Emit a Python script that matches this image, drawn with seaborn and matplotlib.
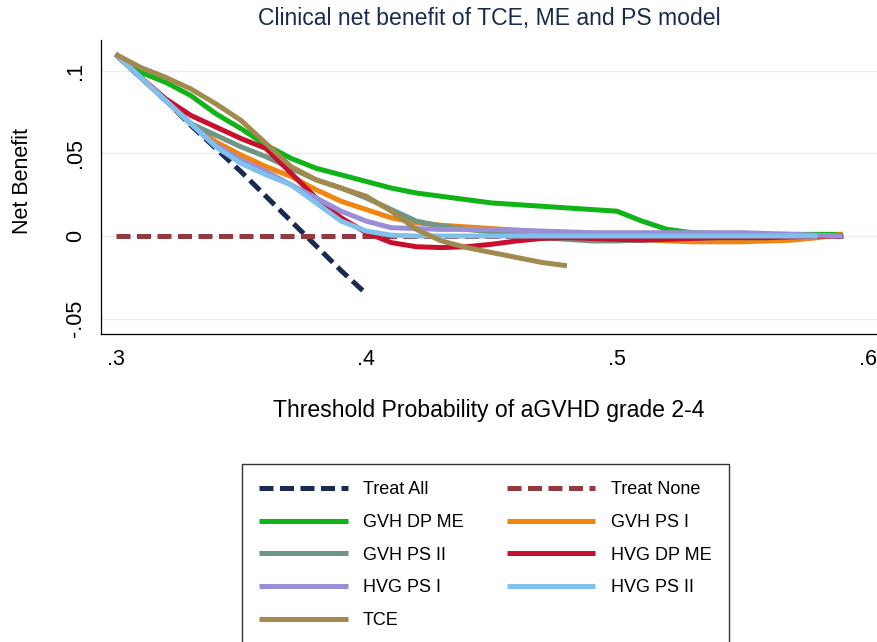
import matplotlib
matplotlib.use("Agg")
import matplotlib.pyplot as plt
import pandas as pd
import seaborn as sns

# Threshold probabilities (0.30 .. 0.59)
thresholds = [0.30, 0.31, 0.32, 0.33, 0.34, 0.35, 0.36, 0.37, 0.38, 0.39,
              0.40, 0.41, 0.42, 0.43, 0.44, 0.45, 0.46, 0.47, 0.48, 0.49,
              0.50, 0.51, 0.52, 0.53, 0.54, 0.55, 0.56, 0.57, 0.58, 0.59]

treat_all = [0.110, 0.096, 0.082, 0.067, 0.053, 0.039, 0.024, 0.009, -0.006,
             -0.021, -0.035]
treat_none = [0.0] * 30
gvh_dp_me = [0.110, 0.099, 0.093, 0.085, 0.074, 0.065, 0.055, 0.047, 0.041,
             0.037, 0.033, 0.029, 0.026, 0.024, 0.022, 0.020, 0.019, 0.018,
             0.017, 0.016, 0.015, 0.009, 0.004, 0.002, 0.0015, 0.001, 0.001,
             0.001, 0.001, 0.001]
gvh_ps_i = [0.110, 0.096, 0.082, 0.068, 0.057, 0.049, 0.042, 0.036, 0.028,
            0.021, 0.016, 0.011, 0.008, 0.0065, 0.0055, 0.0045, 0.0035,
            0.0025, 0.0015, 0.000, -0.001, -0.002, -0.003, -0.0035, -0.0035,
            -0.0035, -0.003, -0.0025, -0.001, 0.001]
gvh_ps_ii = [0.110, 0.096, 0.082, 0.068, 0.061, 0.054, 0.048, 0.041, 0.034,
             0.029, 0.023, 0.016, 0.009, 0.006, 0.004, 0.0025, 0.001, -0.001,
             -0.002, -0.003, -0.003, -0.0025, -0.002, -0.0015, -0.001, -0.001,
             -0.001, -0.0005, 0.000, 0.000]
hvg_dp_me = [0.110, 0.096, 0.083, 0.073, 0.066, 0.059, 0.053, 0.038, 0.023,
             0.011, 0.002, -0.004, -0.0065, -0.007, -0.0065, -0.005, -0.003,
             -0.0015, -0.001, -0.0015, -0.002, -0.0025, -0.002, -0.0015,
             -0.001, -0.001, -0.001, -0.0005, 0.000, 0.000]
hvg_ps_i = [0.110, 0.096, 0.082, 0.068, 0.055, 0.046, 0.039, 0.031, 0.023,
            0.015, 0.009, 0.005, 0.0045, 0.004, 0.004, 0.004, 0.0035, 0.003,
            0.0025, 0.002, 0.002, 0.002, 0.002, 0.002, 0.002, 0.002, 0.0015,
            0.001, 0.0005, 0.000]
hvg_ps_ii = [0.110, 0.096, 0.082, 0.068, 0.054, 0.044, 0.037, 0.031, 0.020,
             0.009, 0.003, 0.0005, 0.000, 0.000, 0.000, 0.000, 0.000, 0.000,
             0.000, 0.000, 0.000, 0.000, 0.000, 0.000, 0.000, 0.000, 0.000,
             0.000, 0.000]
tce = [0.110, 0.102, 0.096, 0.089, 0.080, 0.070, 0.056, 0.042, 0.034, 0.029,
       0.024, 0.015, 0.004, -0.003, -0.007, -0.010, -0.013, -0.016, -0.018]

series_names = ["Treat All", "Treat None", "GVH DP ME", "GVH PS I",
                "GVH PS II", "HVG DP ME", "HVG PS I", "HVG PS II", "TCE"]
series_values = [treat_all, treat_none, gvh_dp_me, gvh_ps_i, gvh_ps_ii,
                 hvg_dp_me, hvg_ps_i, hvg_ps_ii, tce]
series_colors = ["#1B2A52", "#933A40", "#10B318", "#F0860F", "#6F9585",
                 "#C8102E", "#9A8FD6", "#80C0EC", "#A08A4E"]

y_ticks = [-0.05, 0.0, 0.05, 0.1]
y_tick_labels = ["-.05", "0", ".05", ".1"]
x_ticks = [0.3, 0.4, 0.5, 0.6]
x_tick_labels = [".3", ".4", ".5", ".6"]

rows = []
for name, vals in zip(series_names, series_values):
    for x, y in zip(thresholds, vals):
        rows.append({"threshold": x, "net_benefit": y, "model": name})
df = pd.DataFrame(rows)

sns.set_style("white")
plt.rcParams["font.family"] = ["Liberation Sans", "DejaVu Sans"]
plt.rcParams["text.color"] = "black"

W, H = 877, 642
fig = plt.figure(figsize=(W / 100, H / 100), dpi=100)
ax = fig.add_axes([101 / W, 1 - 334 / H, (877 - 101) / W, (334 - 40) / H])

dash = (2.8, 1.3)
dashes = {n: (dash if n.startswith("Treat") else "") for n in series_names}
sns.lineplot(data=df, x="threshold", y="net_benefit", hue="model",
             style="model", hue_order=series_names, style_order=series_names,
             palette=dict(zip(series_names, series_colors)), dashes=dashes,
             linewidth=3.6, sort=False, estimator=None, legend=False, ax=ax)
for ln in ax.lines:
    ln.set_solid_capstyle("butt")
    ln.set_dash_capstyle("butt")

ax.set_xlim(0.2942, 0.6037)
ax.set_ylim(-0.0593, 0.1186)
ax.set_xticks(x_ticks)
ax.set_xticklabels(x_tick_labels)
ax.set_yticks(y_ticks)
ax.set_yticklabels(y_tick_labels, rotation=90, va="center")
ax.tick_params(axis="both", direction="out", length=7, width=0.9,
               color="black", labelsize=15.5, labelcolor="black")
ax.tick_params(axis="x", pad=4)
ax.tick_params(axis="y", pad=4)
ax.yaxis.grid(True, color="#E7EEF2", linewidth=1.0)
ax.xaxis.grid(False)
ax.set_axisbelow(True)
for side in ["top", "right"]:
    ax.spines[side].set_visible(False)
for side in ["left", "bottom"]:
    ax.spines[side].set_color("black")
    ax.spines[side].set_linewidth(0.9)

ax.set_xlabel("Threshold Probability of aGVHD grade 2-4", fontsize=16.6,
              color="black")
ax.xaxis.set_label_coords(0.5, -(399 - 334) / 294)
ax.set_ylabel("Net Benefit", fontsize=15.5, color="black")
ax.yaxis.set_label_coords(-(101 - 23) / 776, (334 - 181) / 294)
ax.yaxis.label.set_va("center")

fig.text(489 / W, 1 - 18 / H, "Clinical net benefit of TCE, ME and PS model",
         ha="center", va="center", fontsize=16.6, color="#1A2A4F")

# legend: row-wise order over two columns
handles = list(ax.lines)
col1 = [0, 2, 4, 6, 8]
col2 = [1, 3, 5, 7]
order = col1 + col2
leg = fig.legend([handles[i] for i in order], [series_names[i] for i in order],
                 ncol=2, loc="upper left",
                 bbox_to_anchor=(242 / W, 1 - 464 / H),
                 bbox_transform=fig.transFigure, borderaxespad=0,
                 fontsize=13, handlelength=4.9, handletextpad=0.85,
                 columnspacing=2.4, labelspacing=0.87, borderpad=0.95,
                 frameon=True, fancybox=False, edgecolor="#333333",
                 framealpha=1)
leg.get_frame().set_linewidth(1.0)
for t in leg.get_texts():
    t.set_color("black")

fig.savefig("out.png", dpi=100)
